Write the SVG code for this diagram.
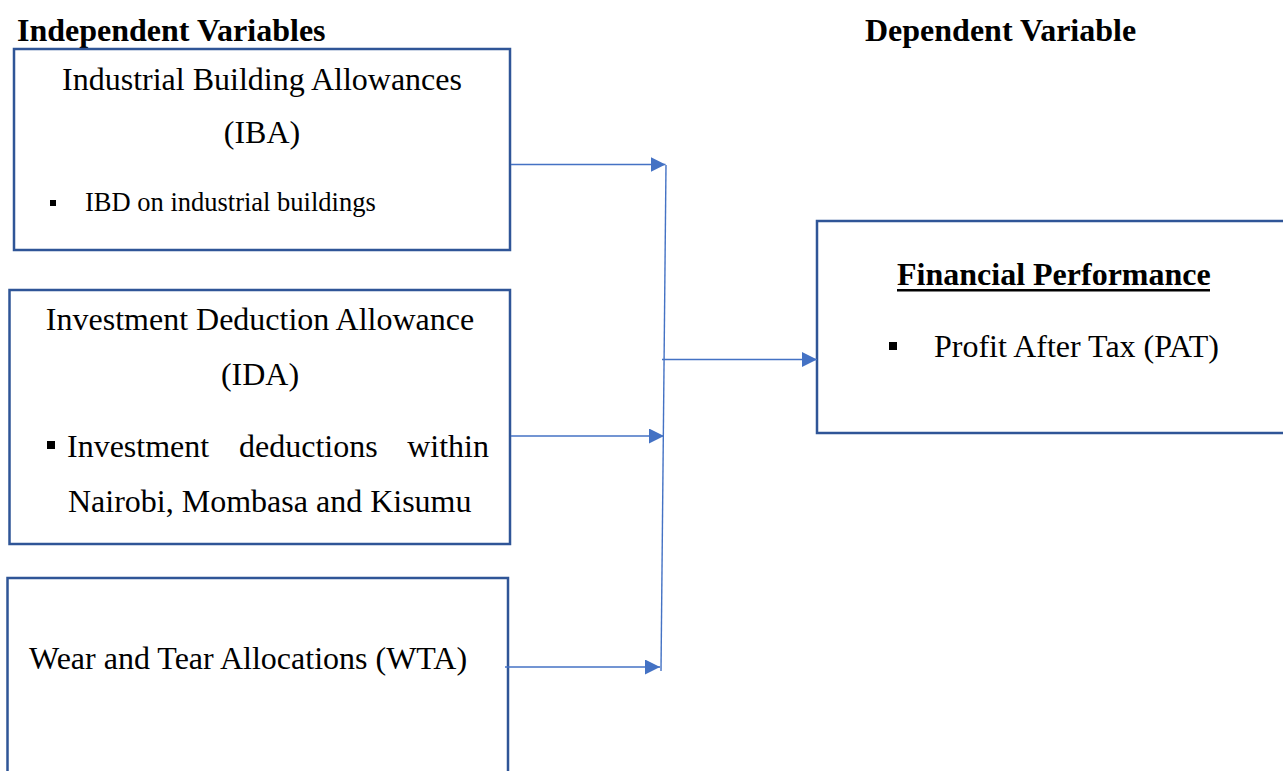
<svg xmlns="http://www.w3.org/2000/svg" width="1283" height="771" viewBox="0 0 1283 771">
<style>
.box{fill:#fff;stroke:#2F5597;stroke-width:2.5}
.t{font-family:"Liberation Serif","Times New Roman",serif;font-size:32px;fill:#000}
.b{font-weight:bold}
.s{font-size:26.5px}
.con{stroke:#4472C4;stroke-width:1.4;fill:none}
.arr{marker-end:url(#ah)}
</style>
<defs>
<marker id="ah" markerUnits="userSpaceOnUse" markerWidth="18" markerHeight="18" refX="15" refY="7.5" orient="auto">
<path d="M0,0 L15,7.5 L0,15 z" fill="#4472C4"/>
</marker>
</defs>
<rect width="1283" height="771" fill="#fff"/>
<text class="t b" x="17" y="41">Independent Variables</text>
<text class="t b" x="865" y="41">Dependent Variable</text>
<g id="iba">
<rect class="box" x="14" y="49" width="496" height="201"/>
<text class="t" x="262" y="90" text-anchor="middle">Industrial Building Allowances</text>
<text class="t" x="262" y="143" text-anchor="middle">(IBA)</text>
<rect x="50" y="200" width="6" height="6" fill="#000"/>
<text class="t s" x="85" y="211">IBD on industrial buildings</text>
</g>
<g id="ida">
<rect class="box" x="9.5" y="290" width="500.5" height="254"/>
<text class="t" x="260" y="330" text-anchor="middle">Investment Deduction Allowance</text>
<text class="t" x="260" y="385" text-anchor="middle">(IDA)</text>
<rect x="47" y="441" width="8" height="8" fill="#000"/>
<text class="t" x="67" y="457">Investment</text>
<text class="t" x="239" y="457">deductions</text>
<text class="t" x="489" y="457" text-anchor="end">within</text>
<text class="t" x="68" y="512">Nairobi, Mombasa and Kisumu</text>
</g>
<g id="wta">
<rect class="box" x="7.5" y="578" width="500.5" height="220"/>
<text class="t" x="29" y="669">Wear and Tear Allocations (WTA)</text>
</g>
<g id="fp">
<rect class="box" x="817" y="221" width="490" height="212"/>
<text class="t b" x="897" y="285">Financial Performance</text>
<rect x="897" y="289" width="313" height="2.5" fill="#000"/>
<rect x="889" y="342" width="8" height="8" fill="#000"/>
<text class="t" x="934" y="357">Profit After Tax (PAT)</text>
</g>
<g id="connectors">
<line class="con arr" x1="511" y1="164.5" x2="665.5" y2="164.5"/>
<line class="con arr" x1="511" y1="436" x2="664" y2="436"/>
<line class="con arr" x1="505" y1="667" x2="660" y2="667"/>
<line class="con" x1="666" y1="165" x2="661" y2="671"/>
<line class="con arr" x1="662" y1="359.5" x2="817" y2="359.5"/>
</g>
</svg>
